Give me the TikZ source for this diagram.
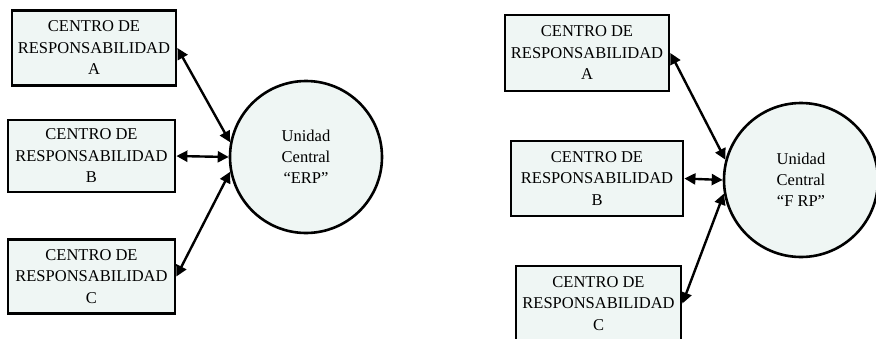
\documentclass[tikz,border=0pt]{standalone}
\usepackage{fontspec}
\setmainfont{Liberation Serif}
\usepackage{tikz}
\usetikzlibrary{arrows.meta}
\definecolor{relleno}{RGB}{239,246,244}

\begin{document}
\begin{tikzpicture}[x=1pt,y=-1pt,
  centro/.style={draw,line width=2.8pt,fill=relleno,rectangle,inner sep=0pt,
    align=center,font=\fontsize{16.5}{21.5}\selectfont},
  unidad/.style={draw,line width=2.6pt,fill=relleno,circle,inner sep=0pt,
    align=center,font=\fontsize{16.5}{21}\selectfont},
  enlace/.style={line width=2.4pt,{Triangle[length=11pt,width=11pt]}-{Triangle[length=11pt,width=11pt]}}]
\useasboundingbox (0,0) rectangle (876,338);
\clip (0,0) rectangle (876,338);
% primer esquema
\node[centro,minimum width=164pt,minimum height=75pt] (lA) at (94,48) {CENTRO DE\\RESPONSABILIDAD\\A};
\node[centro,minimum width=167pt,minimum height=72pt] (lB) at (91.5,156) {CENTRO DE\\RESPONSABILIDAD\\B};
\node[centro,minimum width=167pt,minimum height=74pt] (lC) at (91.5,276.5) {CENTRO DE\\RESPONSABILIDAD\\C};
\node[unidad,minimum size=152pt] (lU) at (306,157) {Unidad\\Central\\“ERP”};
\draw[enlace] (lA.east) -- (lU.169);
\draw[enlace] (lB.east) -- (lU.west);
\draw[enlace] (lC.east) -- (lU.191);
% segundo esquema
\node[centro,minimum width=164pt,minimum height=76pt] (rA) at (587,53) {CENTRO DE\\RESPONSABILIDAD\\A};
\node[centro,minimum width=172pt,minimum height=75pt] (rB) at (597,178.5) {CENTRO DE\\RESPONSABILIDAD\\B};
\node[centro,minimum width=165pt,minimum height=75pt] (rC) at (598.5,303.5) {CENTRO DE\\RESPONSABILIDAD\\C};
\node[unidad,minimum size=154pt] (rU) at (801,180) {Unidad\\Central\\“F RP”};
\draw[enlace] (rA.east) -- (rU.165);
\draw[enlace] (rB.east) -- (rU.west);
\draw[enlace] (rC.east) -- (rU.190);
\end{tikzpicture}
\end{document}
